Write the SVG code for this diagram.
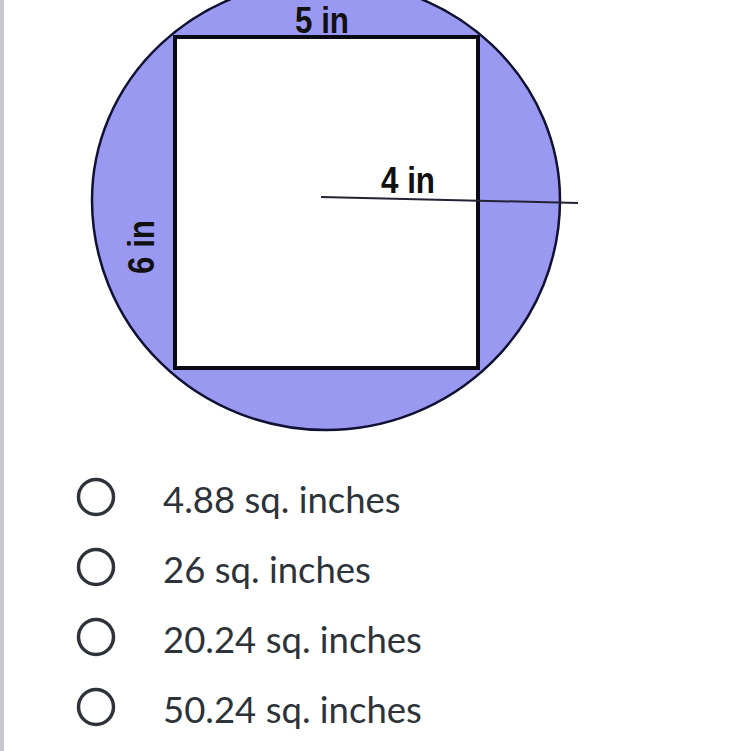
<svg xmlns="http://www.w3.org/2000/svg" width="750" height="751" viewBox="0 0 750 751">
<style>
.lbl{font-family:"Liberation Sans",Arial,sans-serif;font-weight:bold;font-size:33px;fill:#111}
.opt{font-family:Lato,"Open Sans",sans-serif;font-size:36.5px;fill:#2d3339}
.radio{fill:none;stroke:#2d3339;stroke-width:3.5}
</style>
<rect x="0" y="0" width="750" height="751" fill="#ffffff"/>
<rect x="0" y="0" width="4" height="751" fill="#c8c9ce"/>
<g id="figure">
<path d="M92,200 A234,220 0 0 1 560,200 A234,230 0 0 1 92,200 Z" fill="#9999f1" stroke="#111133" stroke-width="2.5"/>
<rect x="175" y="37" width="303" height="331" fill="#ffffff" stroke="#0a0a14" stroke-width="4"/>
<line x1="321" y1="197" x2="578" y2="203" stroke="#222233" stroke-width="2"/>
<text class="lbl" transform="translate(322,33) scale(0.95,1.12)" text-anchor="middle">5 in</text>
<text class="lbl" transform="translate(408,193) scale(0.95,1.12)" text-anchor="middle">4 in</text>
<text class="lbl" transform="translate(154,247) rotate(-90) scale(0.95,1.12)" text-anchor="middle">6 in</text>
</g>
<g id="opt1"><circle class="radio" cx="96" cy="497" r="17.5"/><text class="opt" x="163" y="513">4.88 sq. inches</text></g>
<g id="opt2"><circle class="radio" cx="96" cy="567" r="17.5"/><text class="opt" x="163" y="583">26 sq. inches</text></g>
<g id="opt3"><circle class="radio" cx="96" cy="637" r="17.5"/><text class="opt" x="163" y="653">20.24 sq. inches</text></g>
<g id="opt4"><circle class="radio" cx="96" cy="707" r="17.5"/><text class="opt" x="163" y="723">50.24 sq. inches</text></g>
</svg>
